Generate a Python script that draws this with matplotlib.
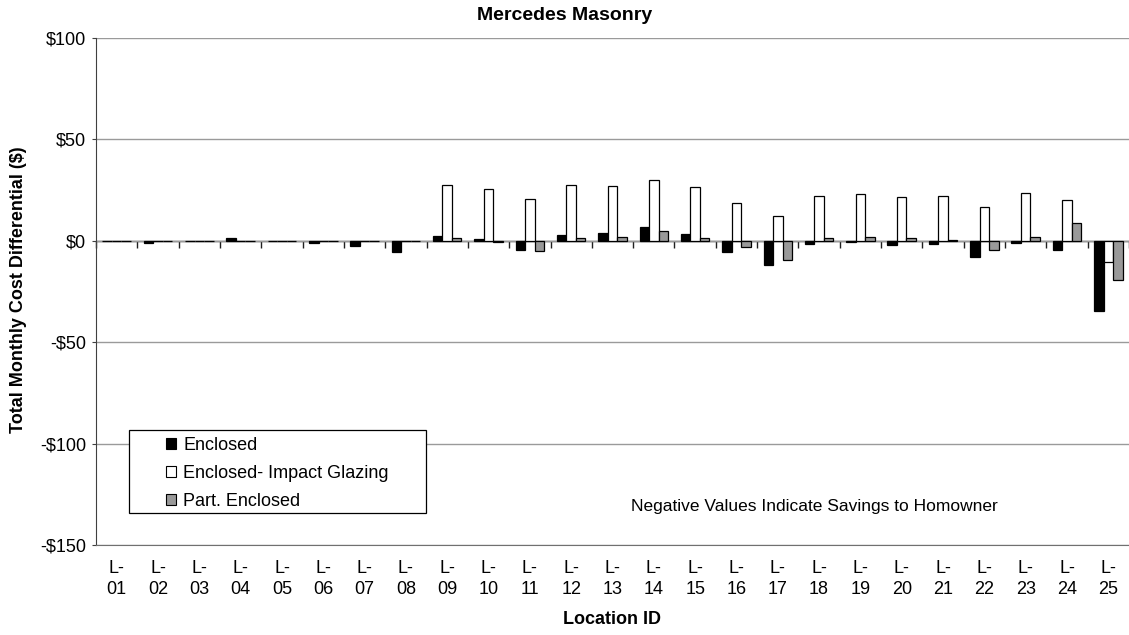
import numpy as np
import matplotlib
matplotlib.use("Agg")
import matplotlib.pyplot as plt
from matplotlib.patches import Patch, Rectangle
from matplotlib.ticker import FuncFormatter

plt.rcParams['font.family'] = ['Liberation Sans', 'DejaVu Sans']

# Location IDs and monthly cost differentials ($) per option
locations = [f"L-\n{i:02d}" for i in range(1, 26)]
enclosed = [-0.3, -1.3, -0.3, 1.5, -0.3, -1.2, -2.6, -5.6, 2.6, 0.8, -4.6, 2.7, 3.9,
            6.9, 3.3, -5.6, -12.0, -1.5, -0.7, -2.3, -1.6, -8.2, -1.1, -4.3, -34.6]
impact_glazing = [0, 0, 0, 0, 0, 0, 0, 0, 27.3, 25.6, 20.5, 27.7, 27.2,
                  29.9, 26.4, 18.4, 12.2, 22.2, 22.9, 21.4, 22.2, 16.5, 23.5, 19.9, -10.3]
part_enclosed = [0, 0, 0, 0, 0, 0, 0, 0, 1.5, -0.5, -5.0, 1.5, 2.0,
                 4.6, 1.5, -3.3, -9.3, 1.6, 2.1, 1.2, 0.5, -4.4, 2.0, 8.9, -19.2]

series = [
    ("Enclosed", enclosed, "black"),
    ("Enclosed- Impact Glazing", impact_glazing, "white"),
    ("Part. Enclosed", part_enclosed, "#999999"),
]

W, H = 1129, 635
fig = plt.figure(figsize=(W / 100, H / 100), dpi=100)
ax = fig.add_axes([96 / W, 1 - 545 / H, 1 - 96 / W, (545 - 38) / H])

x = np.arange(len(locations))
bw = 0.23
for k, (name, vals, col) in enumerate(series):
    ax.bar(x + (k - 1) * bw, vals, width=bw, color=col, edgecolor="black",
           linewidth=0.9, zorder=3)

ax.set_xlim(-0.5, len(locations) - 0.5)
ax.set_ylim(-150, 100)
ax.set_yticks([100, 50, 0, -50, -100, -150])
ax.yaxis.set_major_formatter(FuncFormatter(lambda v, p: f"${v:.0f}" if v >= 0 else f"-${-v:.0f}"))
ax.grid(axis="y", color="#9a9a9a", linewidth=1.0, zorder=0)
ax.set_axisbelow(True)

for s in ["top", "right"]:
    ax.spines[s].set_visible(False)
ax.spines["left"].set_color("#404040")
ax.spines["bottom"].set_color("#707070")
ax.tick_params(axis="y", length=3, color="#404040", labelsize=13, pad=4)
ax.set_xticks(x)
ax.set_xticklabels(locations, fontsize=13, linespacing=1.3)
ax.tick_params(axis="x", length=0, pad=11)

# category axis crossing at zero, with tick marks between locations
zero_ax = ax.secondary_xaxis(0, transform=ax.transData)
zero_ax.set_xticks(np.arange(len(locations) + 1) - 0.5)
zero_ax.tick_params(axis="x", length=5, width=1, color="#202020", labelbottom=False)
zero_ax.spines["bottom"].set_color("#303030")
zero_ax.spines["bottom"].set_linewidth(1.0)

fig.text(565 / W, 1 - 16 / H, "Mercedes Masonry", ha="center", va="center",
         fontsize=14, fontweight="bold")
fig.text(19 / W, 1 - 290 / H, "Total Monthly Cost Differential ($)", ha="center",
         va="center", rotation=90, fontsize=13, fontweight="bold")
fig.text(612 / W, 1 - 619 / H, "Location ID", ha="center", va="center",
         fontsize=13, fontweight="bold")
fig.text(814 / W, 1 - 507 / H, "Negative Values Indicate Savings to Homowner",
         ha="center", va="center", fontsize=12.5)

# legend box
box = Rectangle((129 / W, 1 - 513 / H), 297 / W, 83 / H, transform=fig.transFigure,
                facecolor="white", edgecolor="black", linewidth=0.9, zorder=4)
fig.patches.append(box)
handles = [Patch(facecolor=col, edgecolor="black", linewidth=0.8, label=name)
           for name, vals, col in series]
leg = fig.legend(handles=handles, loc="upper left",
                 bbox_to_anchor=(166 / W, 1 - 437 / H), bbox_transform=fig.transFigure,
                 frameon=False, fontsize=13, handlelength=0.55, handleheight=0.55,
                 handletextpad=0.4, labelspacing=0.6, borderpad=0, borderaxespad=0)
leg.set_zorder(6)

fig.savefig("out.png", dpi=100)
